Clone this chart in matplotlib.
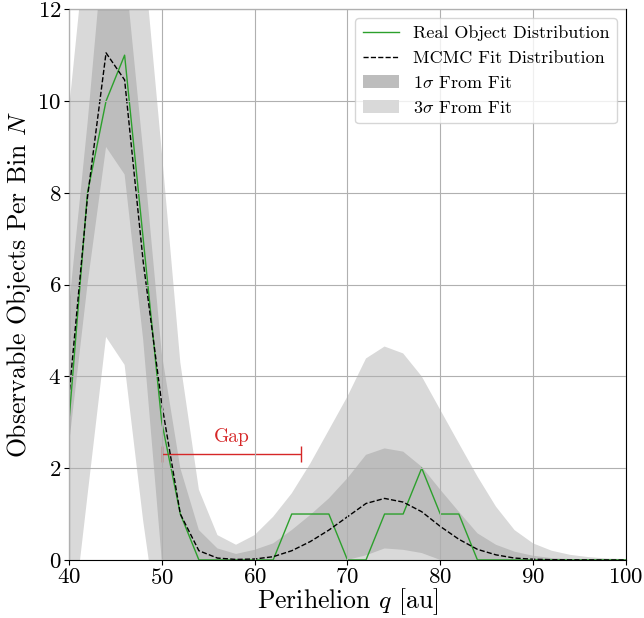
import numpy as np
import matplotlib
matplotlib.use("Agg")
import matplotlib.pyplot as plt

plt.rcParams['font.family'] = 'serif'
plt.rcParams['font.serif'] = ['cmr10']
plt.rcParams['mathtext.fontset'] = 'cm'
plt.rcParams['axes.formatter.use_mathtext'] = True

# bin centres in perihelion [au]
q = np.arange(40, 101, 2)

# observed counts per bin
real_counts = [3, 8, 10, 11, 7, 3, 1, 0, 0, 0, 0, 0, 1, 1, 1, 0,
               0, 1, 1, 2, 1, 1, 0, 0, 0, 0, 0, 0, 0, 0, 0]

# MCMC best fit
fit_counts = [3.55, 7.9, 11.05, 10.46, 6.5, 3.4, 1.0, 0.2, 0.04, 0.01, 0.02,
              0.07, 0.2, 0.4, 0.65, 0.94, 1.23, 1.34, 1.26, 1.05, 0.73, 0.45,
              0.23, 0.11, 0.04, 0.015, 0.005, 0.002, 0.001, 0.0, 0.0]

# 1 sigma envelope
sig1_low = [2.5, 6.0, 9.0, 8.4, 4.8, 0, 0, 0, 0, 0, 0, 0, 0, 0, 0, 0,
            0.1, 0.25, 0.22, 0.15, 0, 0, 0, 0, 0, 0, 0, 0, 0, 0, 0]
sig1_high = [5.5, 9.5, 14.0, 13.0, 8.9, 4.5, 2.0, 0.65, 0.25, 0.13, 0.22,
             0.36, 0.65, 0.98, 1.34, 1.78, 2.29, 2.43, 2.36, 2.03, 1.53,
             1.05, 0.58, 0.33, 0.18, 0.09, 0.04, 0.02, 0.01, 0.01, 0.0]

# 3 sigma envelope
sig3_low = [-2.1, 1.4, 4.86, 4.25, 0.85, -2.0, 0, 0, 0, 0, 0, 0, 0, 0, 0, 0,
            0, 0, 0, 0, 0, 0, 0, 0, 0, 0, 0, 0, 0, 0, 0]
sig3_high = [9.8, 13.8, 17.0, 17.0, 13.3, 8.9, 4.3, 1.53, 0.54, 0.33, 0.54,
             0.94, 1.45, 2.1, 2.83, 3.56, 4.39, 4.65, 4.5, 4.0, 3.27, 2.54,
             1.82, 1.16, 0.65, 0.36, 0.2, 0.11, 0.06, 0.03, 0.02]

# gap marker
gap_start, gap_end, gap_y = 50, 65, 2.3

fig = plt.figure(figsize=(6.44, 6.18), dpi=100)
ax = fig.add_axes([0.107, 0.094, 0.865, 0.891])

ax.fill_between(q, sig3_low, sig3_high, color='#d9d9d9', lw=0, label=r'3$\sigma$ From Fit')
ax.fill_between(q, sig1_low, sig1_high, color='#bdbdbd', lw=0, label=r'1$\sigma$ From Fit')
ax.plot(q, real_counts, color='#2ca02c', lw=1.0, label='Real Object Distribution')
ax.plot(q, fit_counts, color='black', ls='--', lw=1.0, label='MCMC Fit Distribution')

ax.errorbar((gap_start + gap_end) / 2, gap_y, xerr=(gap_end - gap_start) / 2,
            color='#d62728', lw=1.0, capsize=6, capthick=1.0)
ax.text((gap_start + gap_end) / 2, gap_y + 0.18, 'Gap', color='#d62728',
        ha='center', va='bottom', fontsize=14)

ax.set_xlim(40, 100)
ax.set_ylim(0, 12)
ax.set_xticks(np.arange(40, 101, 10))
ax.set_yticks(np.arange(0, 13, 2))
ax.grid(True, color='#b0b0b0', lw=0.8)
ax.set_axisbelow(False)
for coll in ax.collections:
    coll.set_zorder(0.5)
ax.tick_params(labelsize=16.5, pad=2)
ax.set_xlabel(r'Perihelion $q$ [au]', fontsize=18.5, labelpad=-1)
ax.set_ylabel(r'Observable Objects Per Bin $N$', fontsize=18.5, labelpad=3)

h, l = ax.get_legend_handles_labels()
order = [2, 3, 1, 0]
ax.legend([h[i] for i in order], [l[i] for i in order], loc='upper right', fontsize=13)

fig.savefig('out.png', dpi=100)
